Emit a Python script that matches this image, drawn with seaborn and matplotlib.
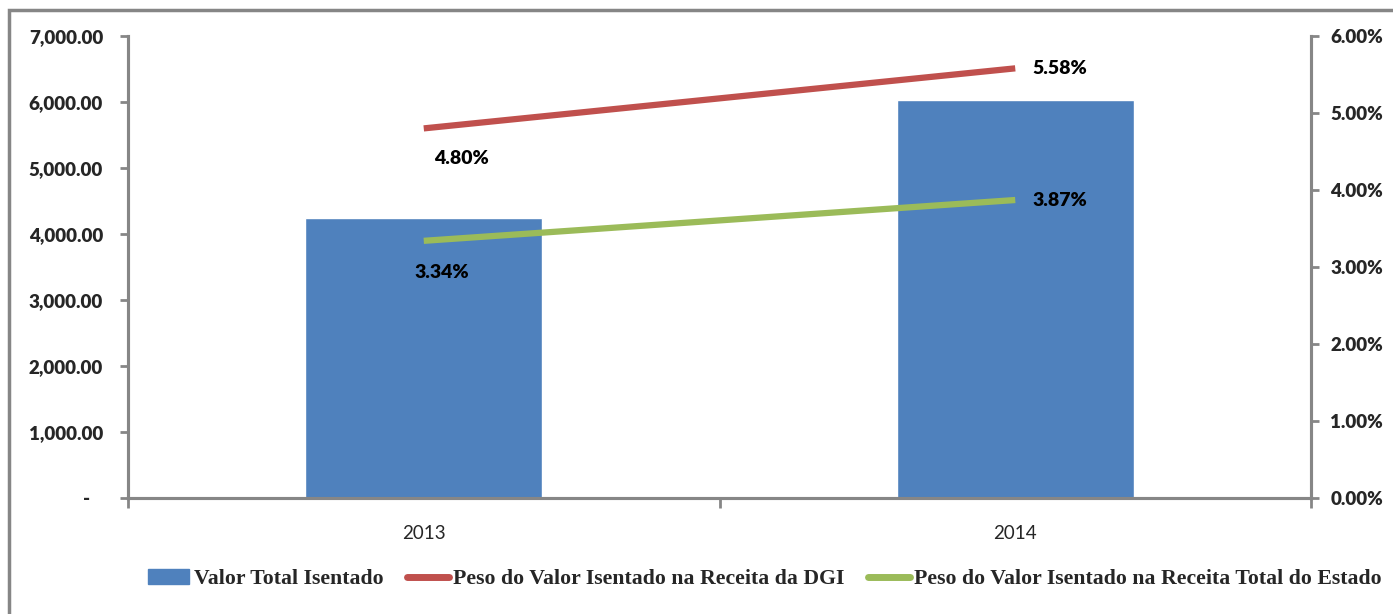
import matplotlib
matplotlib.use("Agg")
import matplotlib.pyplot as plt
import matplotlib.ticker as mticker
from matplotlib.patches import Rectangle, Patch
from matplotlib.lines import Line2D
import numpy as np
import pandas as pd
import seaborn as sns

# -------------------------------------------------------------------
# Data
# -------------------------------------------------------------------
years = ["2013", "2014"]
valor_total = [4240.0, 6030.0]
peso_dgi = [4.80, 5.58]
peso_estado = [3.34, 3.87]

labels = ["Valor Total Isentado",
          "Peso do Valor Isentado na Receita da DGI",
          "Peso do Valor Isentado na Receita Total do Estado"]

BLUE = "#4F81BD"
RED = "#C0504D"
GREEN = "#9BBB59"
GRAY = "#868686"
WEIGHT = "heavy"

sns.set_style("white")
plt.rcParams["font.family"] = ["Lato", "DejaVu Sans"]

df = pd.DataFrame({"year": years, "valor": valor_total})

fig = plt.figure(figsize=(13.93, 6.14), dpi=100)
ax = fig.add_axes([128 / 1393, 1 - 498 / 614, (1311 - 128) / 1393, (498 - 36) / 614])

sns.barplot(data=df, x="year", y="valor", color=BLUE, width=0.4,
            saturation=1, ax=ax)
ax.set_xlim(-0.5, 1.5)
ax.set_ylim(0, 7000)
ax.set_xlabel("")
ax.set_ylabel("")

def left_fmt(v, pos):
    return "-   " if v == 0 else f"{v:,.2f}"

ax.yaxis.set_major_locator(mticker.MultipleLocator(1000))
ax.yaxis.set_major_formatter(mticker.FuncFormatter(left_fmt))
for lab in ax.get_yticklabels():
    lab.set_fontweight(WEIGHT)
ax.tick_params(axis="y", left=True, length=6, width=2, color=GRAY,
               labelsize=13.5, pad=12)
ax.tick_params(axis="x", which="major", bottom=False, labelsize=13.5, pad=16)
ax.set_xticks([-0.5, 0.5, 1.5], minor=True)
ax.tick_params(axis="x", which="minor", bottom=True, length=7, width=2,
               color=GRAY, direction="out")

ax.spines["top"].set_visible(False)
for s in ["left", "bottom", "right"]:
    ax.spines[s].set_color(GRAY)
    ax.spines[s].set_linewidth(2.2)

# Secondary axis: percentages
ax2 = ax.twinx()
x = np.arange(len(years))
ax2.plot(x, peso_dgi, color=RED, lw=4.5, solid_capstyle="butt")
ax2.plot(x, peso_estado, color=GREEN, lw=4.5, solid_capstyle="butt")
ax2.set_ylim(0, 6)
ax2.yaxis.set_major_locator(mticker.MultipleLocator(1))
ax2.yaxis.set_major_formatter(mticker.FuncFormatter(lambda v, p: f"{v:.2f}%"))
for lab in ax2.get_yticklabels():
    lab.set_fontweight(WEIGHT)
ax2.tick_params(axis="y", right=True, length=6, width=2, color=GRAY,
                labelsize=13.5, pad=8)
ax2.spines["top"].set_visible(False)
for s in ["left", "bottom", "right"]:
    ax2.spines[s].set_color(GRAY)
    ax2.spines[s].set_linewidth(2.2)

# Data labels
lbl = dict(fontsize=14, fontweight=WEIGHT, color="black",
           textcoords="offset points", ha="center", va="center")
ax2.annotate(f"{peso_dgi[0]:.2f}%", (x[0], peso_dgi[0]), xytext=(27, -22), **lbl)
ax2.annotate(f"{peso_dgi[1]:.2f}%", (x[1], peso_dgi[1]), xytext=(32, 0), **lbl)
ax2.annotate(f"{peso_estado[0]:.2f}%", (x[0], peso_estado[0]), xytext=(13, -23), **lbl)
ax2.annotate(f"{peso_estado[1]:.2f}%", (x[1], peso_estado[1]), xytext=(32, 0), **lbl)

# Legend
handles = [Patch(facecolor=BLUE, edgecolor=BLUE),
           Line2D([0], [0], color=RED, lw=5),
           Line2D([0], [0], color=GREEN, lw=5)]
fig.legend(handles, labels, loc="center", bbox_to_anchor=(0.549, 0.057),
           ncol=3, frameon=False, handlelength=1.9, handletextpad=0.2,
           columnspacing=1.1,
           prop={"family": "Liberation Serif", "weight": "bold", "size": 15.7})

# Outer frame
fig.patches.append(Rectangle((9 / 1393, -0.1), 1.2, 1 - 10 / 614 + 0.1,
                             transform=fig.transFigure, fill=False,
                             edgecolor=GRAY, lw=2.5))

fig.savefig("out.png", dpi=100)
